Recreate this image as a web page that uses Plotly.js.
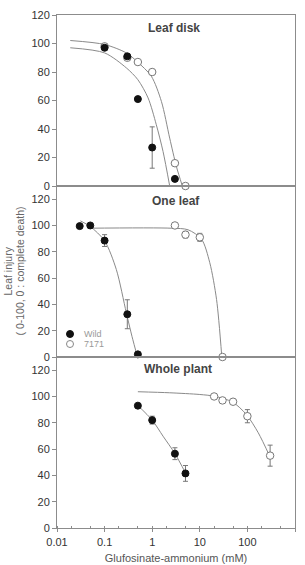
<!DOCTYPE html>
<html><head><meta charset="utf-8">
<script src="https://cdn.plot.ly/plotly-3.0.1.min.js"></script>
<style>html,body{margin:0;padding:0;background:#fff;}#chart{width:305px;height:565px;}</style>
</head><body><div id="chart"></div>
<script>
// Leaf disk
var diskWildX = [0.1, 0.3, 0.5, 1, 3];
var diskWildY = [97, 91, 61, 27, 5];
var diskWildErr = [0, 0, 0, 14.5, 0];
var disk7171X = [0.1, 0.3, 0.5, 1, 3, 5];
var disk7171Y = [98, 90, 87, 80, 16, 0];
var diskWildFitX = [0.019, 0.1, 0.286, 0.5, 0.82, 1.22, 1.69, 2.33];
var diskWildFitY = [97, 93.4, 82.9, 74.6, 61.8, 43, 24.2, 0];
var disk7171FitX = [0.019, 0.1, 0.286, 0.49, 0.96, 1.56, 2.33, 3.23, 4.3];
var disk7171FitY = [102.1, 99.3, 93.4, 87.1, 77, 59.4, 33.6, 13.6, 0];
// One leaf
var oneWildX = [0.03, 0.05, 0.1, 0.3, 0.5];
var oneWildY = [99.5, 100, 88.5, 32.5, 2];
var oneWildErr = [0, 0, 4.5, 11, 0];
var one7171X = [3, 5, 10, 30];
var one7171Y = [100, 93, 91, 0];
var one7171Err = [0, 2.5, 3, 0];
var oneWildFitX = [0.031, 0.05, 0.1, 0.176, 0.286, 0.376, 0.49];
var oneWildFitY = [103.5, 99.2, 88.3, 66.6, 33.6, 15.7, 0];
var one7171FitX = [0.045, 2.53, 5.68, 10.9, 16.2, 22.5, 29];
var one7171FitY = [97.9, 97.9, 96.7, 89.5, 71.7, 43.7, 0];
// Whole plant
var wholeWildX = [0.5, 1, 3, 5];
var wholeWildY = [93, 82, 56.5, 41.5];
var wholeWildErr = [0, 3, 4.5, 6];
var whole7171X = [20, 30, 50, 100, 300];
var whole7171Y = [100, 97, 96, 85, 55];
var whole7171Err = [0, 0, 0, 5, 8];
var wholeWildFitX = [0.5, 1, 1.69, 3, 5];
var wholeWildFitY = [93.1, 82, 69.8, 56.6, 41.9];
var whole7171FitX = [0.5, 2.33, 10, 20, 49, 95, 169, 295];
var whole7171FitY = [103.6, 102.8, 101.5, 100.2, 95.7, 86.3, 72.4, 54.5];

var xTicks = [0.01, 0.1, 1, 10, 100, 1000];
var xTickText = ['0.01', '0.1', '1', '10', '100', '1000'];
var yTicks = [0, 20, 40, 60, 80, 100, 120];
var panelTitles = ['Leaf disk', 'One leaf', 'Whole plant'];
var seriesNames = ['Wild', '7171'];
var yTitleLines = ['Leaf injury', '( 0-100, 0 : complete death)'];
var xTitle = 'Glufosinate-ammonium (mM)';

var FONT = 'Liberation Sans, Arial, sans-serif';
var fitLine = {color: '#8a8a8a', width: 1, shape: 'spline', smoothing: 0.8};
var filled = {color: '#111', size: 7, line: {color: '#111', width: 1}};
var open = {color: '#fff', size: 7.5, line: {color: '#777', width: 1}};
function err(a) { return {type: 'data', array: a, visible: true, color: '#777', thickness: 1, width: 2.5}; }

function fit(x, y, xa, ya) { return {x: x, y: y, xaxis: xa, yaxis: ya, mode: 'lines', line: fitLine, showlegend: false, hoverinfo: 'skip'}; }
function pts(x, y, e, m, xa, ya, name) {
  var t = {x: x, y: y, xaxis: xa, yaxis: ya, mode: 'markers', marker: m, name: name, showlegend: false, cliponaxis: false};
  if (e) t.error_y = err(e);
  return t;
}

var data = [
  fit(diskWildFitX, diskWildFitY, 'x', 'y'),
  fit(disk7171FitX, disk7171FitY, 'x', 'y'),
  pts(disk7171X, disk7171Y, null, open, 'x', 'y', seriesNames[1]),
  pts(diskWildX, diskWildY, diskWildErr, filled, 'x', 'y', seriesNames[0]),

  fit(oneWildFitX, oneWildFitY, 'x2', 'y2'),
  fit(one7171FitX, one7171FitY, 'x2', 'y2'),
  pts(oneWildX, oneWildY, oneWildErr, filled, 'x2', 'y2', seriesNames[0]),
  pts(one7171X, one7171Y, one7171Err, open, 'x2', 'y2', seriesNames[1]),

  fit(wholeWildFitX, wholeWildFitY, 'x3', 'y3'),
  fit(whole7171FitX, whole7171FitY, 'x3', 'y3'),
  pts(wholeWildX, wholeWildY, wholeWildErr, filled, 'x3', 'y3', seriesNames[0]),
  pts(whole7171X, whole7171Y, whole7171Err, open, 'x3', 'y3', seriesNames[1])
];

var axColor = '#8c8c8c';
var tickFont = {family: FONT, size: 11, color: '#333'};
function xa(anchor, labels) {
  var a = {type: 'log', range: [-2, 3], anchor: anchor, showline: true, linecolor: axColor, linewidth: 1, mirror: true,
    showgrid: false, zeroline: false, tickvals: xTicks, ticktext: xTickText, showticklabels: labels,
    ticks: labels ? 'outside' : '', ticklen: 3, tickcolor: axColor, tickfont: tickFont, ticklabelstandoff: 1};
  if (labels) a.minor = {ticks: 'inside', ticklen: 2, tickcolor: axColor, showgrid: false};
  return a;
}
function ya(anchor, dom, top) {
  return {domain: dom, range: [0, top], anchor: anchor, showline: true, linecolor: axColor, linewidth: 1, mirror: true,
    showgrid: false, zeroline: false, tickvals: yTicks, ticks: 'outside', ticklen: 4, tickcolor: axColor, tickfont: tickFont};
}

// legend drawn as decorations inside the middle panel
function legMarker(yPix, fill, lineCol) {
  return {type: 'circle', xref: 'paper', yref: 'paper', xsizemode: 'pixel', ysizemode: 'pixel',
    xanchor: 13 / 238, yanchor: (528 - yPix) / 513, x0: -3.5, x1: 3.5, y0: -3.5, y1: 3.5,
    fillcolor: fill, line: {color: lineCol, width: 1}};
}
function legText(yPix, txt) {
  return {text: txt, xref: 'paper', yref: 'paper', x: 25 / 238, y: (528 - yPix) / 513, xanchor: 'left', yanchor: 'middle',
    showarrow: false, font: {family: FONT, size: 9, color: '#999'}};
}
function yTitle(xPix, txt) {
  return {text: txt, xref: 'paper', yref: 'paper', x: (xPix - 57) / 238, y: (528 - 271.5) / 513, xanchor: 'center', yanchor: 'middle',
    textangle: -90, showarrow: false, font: {family: FONT, size: 10.5, color: '#666'}};
}

var titleFont = {family: FONT, size: 12, color: '#444'};
var layout = {
  width: 305, height: 565,
  margin: {l: 57, r: 10, t: 15, b: 37},
  paper_bgcolor: '#fff', plot_bgcolor: '#fff',
  showlegend: false,
  xaxis: xa('y', false),
  xaxis2: xa('y2', false),
  xaxis3: Object.assign(xa('y3', true), {title: {text: xTitle, standoff: 7,
    font: {family: FONT, size: 11, color: '#555'}}}),
  yaxis: ya('x', [2/3, 1], 120),
  yaxis2: ya('x2', [1/3, 2/3], 130),
  yaxis3: ya('x3', [0, 1/3], 130),
  shapes: [legMarker(334, '#111', '#111'), legMarker(344, '#fff', '#888')],
  annotations: [
    {text: '<b>' + panelTitles[0] + '</b>', xref: 'paper', yref: 'paper', x: 0.49, y: 0.975, xanchor: 'center', yanchor: 'middle', showarrow: false, font: titleFont},
    {text: '<b>' + panelTitles[1] + '</b>', xref: 'paper', yref: 'paper', x: 0.50, y: 0.638, xanchor: 'center', yanchor: 'middle', showarrow: false, font: titleFont},
    {text: '<b>' + panelTitles[2] + '</b>', xref: 'paper', yref: 'paper', x: 0.51, y: 0.309, xanchor: 'center', yanchor: 'middle', showarrow: false, font: titleFont},
    legText(334, seriesNames[0]),
    legText(344, seriesNames[1]),
    yTitle(7, yTitleLines[0]),
    yTitle(19, yTitleLines[1])
  ]
};
Plotly.newPlot('chart', data, layout, {displayModeBar: false, staticPlot: true});
</script></body></html>
